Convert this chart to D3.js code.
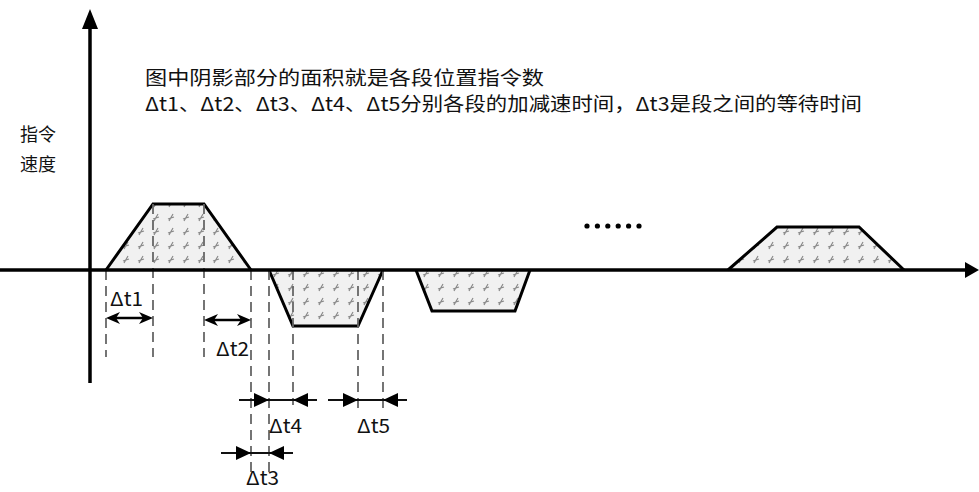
<!DOCTYPE html>
<html>
<head>
<meta charset="utf-8">
<script src="https://cdn.jsdelivr.net/npm/d3@7"></script>
<style>
  body { margin: 0; background: #fff; }
  text { font-family: "Noto Sans CJK SC", "Noto Sans", sans-serif; fill: #111; }
</style>
</head>
<body>
<script>
// 各段的时间拐点（起点、加速结束、减速开始、终点）和速度
const segTimes = [
  [16, 63, 114, 161],
  [179, 203, 268, 293],
  [326, 342, 425, 440],
  [638, 687, 769, 814]
]
const segSpeeds = [66, -56, -41, 43]

// 说明文字
const noteLines = [
  '图中阴影部分的面积就是各段位置指令数',
  'Δt1、Δt2、Δt3、Δt4、Δt5分别各段的加减速时间，Δt3是段之间的等待时间'
]
const yLabel = ['指令', '速度']

const width = 979, height = 492

const svg = d3.select('body').append('svg').attr('width', width).attr('height', height)

const x = d3.scaleLinear().domain([0, 889]).range([90, 979])
const y = d3.scaleLinear().domain([0, 100]).range([270, 170])

// 阴影填充
const pat = svg.append('defs').append('pattern')
  .attr('id', 'hatch').attr('patternUnits', 'userSpaceOnUse')
  .attr('width', 15).attr('height', 14)
pat.append('rect').attr('width', 15).attr('height', 14).attr('fill', '#f1f1f1')
pat.append('path').attr('d', 'M4,11 L8,4 M6,8 L9,7 M3,9 L6,8')
  .attr('stroke', '#8a8a8a').attr('stroke-width', 1.2).attr('fill', 'none')

// 辅助虚线：[时间, 起点速度, 下端 y]
const guides = [
  [segTimes[0][0], 0, 357], [segTimes[0][1], segSpeeds[0], 357],
  [segTimes[0][2], segSpeeds[0], 357], [segTimes[0][3], 0, 474],
  [segTimes[1][0], 0, 474], [segTimes[1][1], 0, 405],
  [segTimes[1][2], 0, 412], [segTimes[1][3], 0, 412]
]

// 梯形
const line = d3.line().x(d => x(d[0])).y(d => y(d[1]))
segTimes.forEach((t, i) => {
  const v = segSpeeds[i]
  const pts = [[t[0], 0], [t[1], v], [t[2], v], [t[3], 0]]
  svg.append('path').attr('d', line(pts) + 'Z').attr('fill', 'url(#hatch)').attr('stroke', 'none')
  svg.append('path').attr('d', line(pts)).attr('fill', 'none')
    .attr('stroke', '#000').attr('stroke-width', 3).attr('stroke-linejoin', 'miter')
})

svg.selectAll('line.guide').data(guides).enter().append('line')
  .attr('class', 'guide')
  .attr('x1', d => x(d[0])).attr('x2', d => x(d[0]))
  .attr('y1', d => y(d[1])).attr('y2', d => d[2])
  .attr('stroke', '#666').attr('stroke-width', 1.8).attr('stroke-dasharray', '10,6')

// 坐标轴
svg.append('line').attr('x1', 0).attr('x2', 968).attr('y1', y(0)).attr('y2', y(0))
  .attr('stroke', '#000').attr('stroke-width', 3.5)
svg.append('path').attr('d', `M979,${y(0)} L965,${y(0) - 8} L965,${y(0) + 8} Z`).attr('fill', '#000')
svg.append('line').attr('x1', 90).attr('x2', 90).attr('y1', 383).attr('y2', 24)
  .attr('stroke', '#000').attr('stroke-width', 3.5)
svg.append('path').attr('d', 'M90,9 L82,29 L98,29 Z').attr('fill', '#000')

// 省略号
svg.selectAll('circle.dot').data(d3.range(6)).enter().append('circle')
  .attr('cx', d => 587 + d * 10.4).attr('cy', 226).attr('r', 2.6).attr('fill', '#000')

// 双向箭头（Δt1、Δt2）
function doubleArrow(t0, t1, yy) {
  const a = x(t0), b = x(t1)
  svg.append('line').attr('x1', a + 8).attr('x2', b - 8).attr('y1', yy).attr('y2', yy)
    .attr('stroke', '#000').attr('stroke-width', 2.5)
  svg.append('path').attr('d', `M${a},${yy} L${a + 14},${yy - 6} L${a + 10},${yy} L${a + 14},${yy + 6} Z`).attr('fill', '#000')
  svg.append('path').attr('d', `M${b},${yy} L${b - 14},${yy - 6} L${b - 10},${yy} L${b - 14},${yy + 6} Z`).attr('fill', '#000')
}
// 向内箭头（Δt3、Δt4、Δt5）
function inwardArrow(t0, t1, yy) {
  const a = x(t0), b = x(t1)
  svg.append('line').attr('x1', a - 30).attr('x2', b + 24).attr('y1', yy).attr('y2', yy)
    .attr('stroke', '#111').attr('stroke-width', 1.8)
  svg.append('path').attr('d', `M${a},${yy} L${a - 15},${yy - 7} L${a - 15},${yy + 7} Z`).attr('fill', '#000')
  svg.append('path').attr('d', `M${b},${yy} L${b + 15},${yy - 7} L${b + 15},${yy + 7} Z`).attr('fill', '#000')
}

doubleArrow(segTimes[0][0], segTimes[0][1], 318)
doubleArrow(segTimes[0][2], segTimes[0][3], 320)
inwardArrow(segTimes[0][3], segTimes[1][0], 453)
inwardArrow(segTimes[1][0], segTimes[1][1], 400)
inwardArrow(segTimes[1][2], segTimes[1][3], 400)

const labels = [['Δt1', 110, 306], ['Δt2', 216, 356], ['Δt3', 246, 485], ['Δt4', 269, 433], ['Δt5', 357, 433]]
svg.selectAll('text.dt').data(labels).enter().append('text')
  .attr('class', 'dt').attr('x', d => d[1]).attr('y', d => d[2])
  .attr('font-size', 19).attr('textLength', 33).attr('lengthAdjust', 'spacingAndGlyphs')
  .text(d => d[0])

// 说明文字
svg.append('text').attr('x', 145).attr('y', 85).attr('font-size', 19)
  .attr('textLength', 399).attr('lengthAdjust', 'spacingAndGlyphs').text(noteLines[0])
svg.append('text').attr('x', 145).attr('y', 111).attr('font-size', 19)
  .attr('textLength', 717).attr('lengthAdjust', 'spacingAndGlyphs').text(noteLines[1])

svg.selectAll('text.yl').data(yLabel).enter().append('text')
  .attr('class', 'yl').attr('x', 20).attr('y', (d, i) => 141 + i * 30)
  .attr('font-size', 18).text(d => d)
</script>
</body>
</html>
